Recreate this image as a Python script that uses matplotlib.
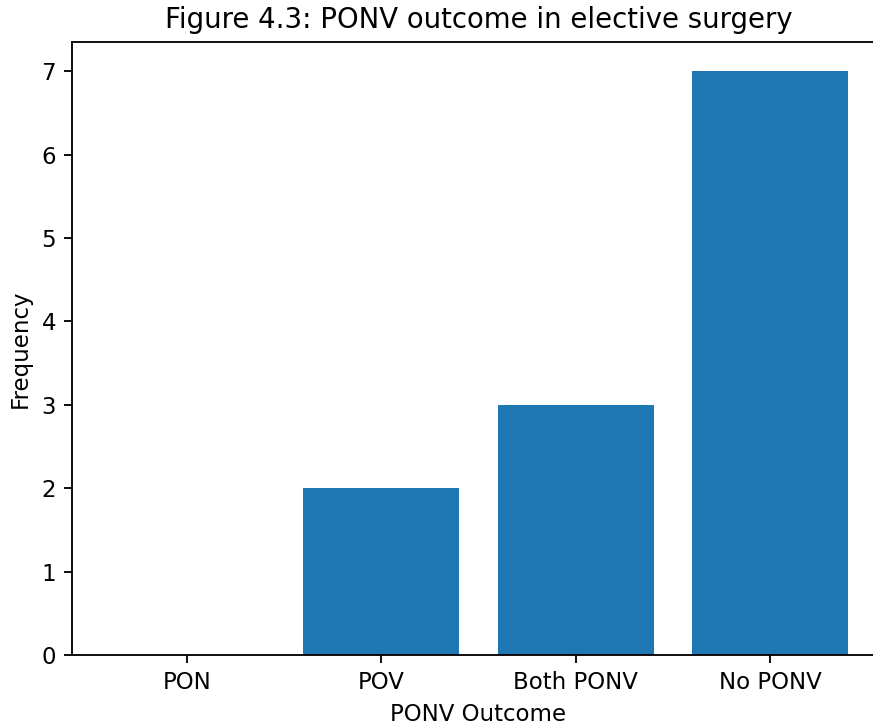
import matplotlib
matplotlib.use("Agg")
import matplotlib.pyplot as plt

categories = ["PON", "POV", "Both PONV", "No PONV"]
frequencies = [0, 2, 3, 7]

s = 1.65
fig = plt.figure(figsize=(8.73, 7.25), dpi=100)
ax = fig.add_axes([72 / 873, 1 - 655 / 725, 813 / 873, 613 / 725])
ax.bar(categories, frequencies, color="#1f77b4", width=0.8)
ax.set_title("Figure 4.3: PONV outcome in elective surgery", fontsize=12 * s, pad=6 * s)
ax.set_xlabel("PONV Outcome", fontsize=10 * s, labelpad=4 * s)
ax.set_ylabel("Frequency", fontsize=10 * s, labelpad=4 * s)
ax.tick_params(labelsize=10 * s, length=3.5 * s, width=0.8 * s, pad=3.5 * s)
for sp in ax.spines.values():
    sp.set_linewidth(0.8 * s)
ax.spines["right"].set_visible(False)
fig.savefig("out.png", dpi=100)
